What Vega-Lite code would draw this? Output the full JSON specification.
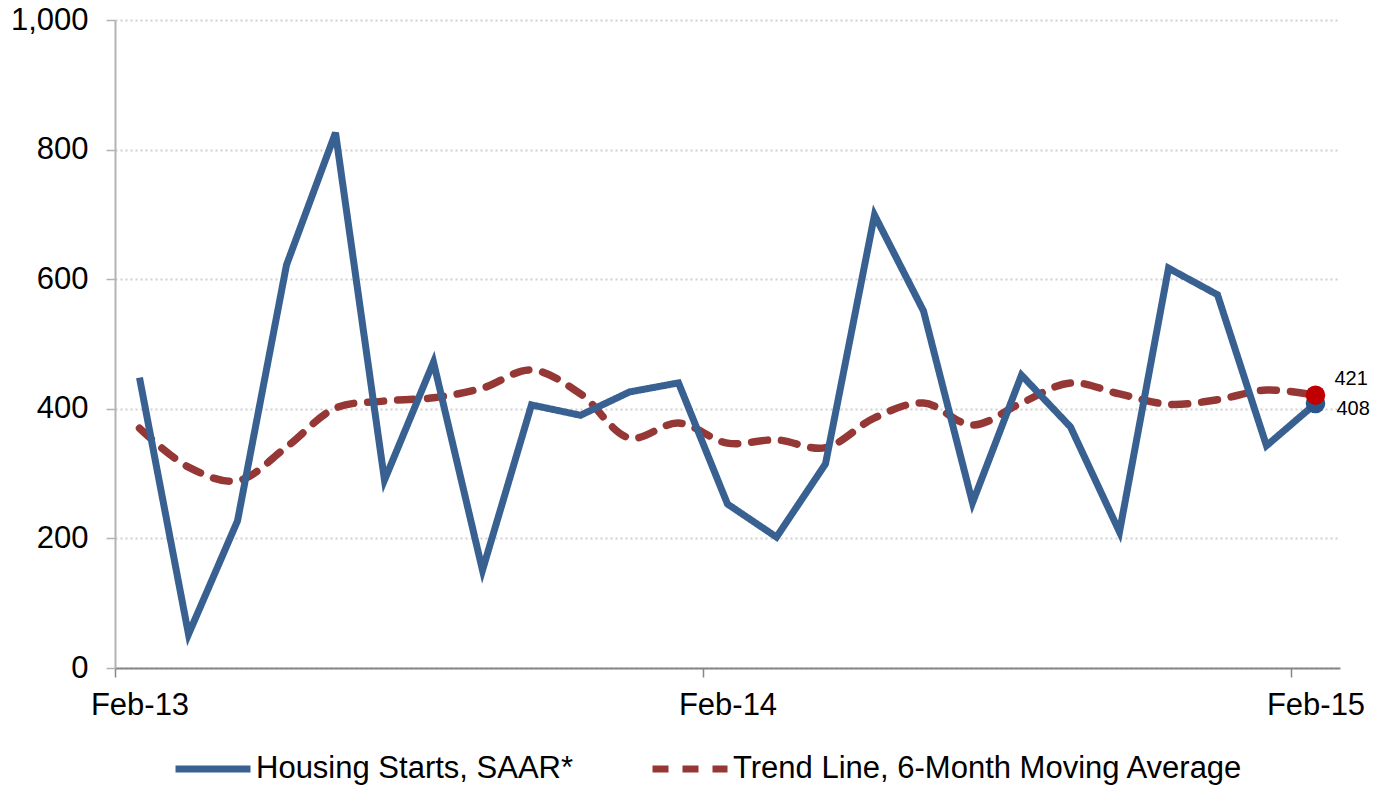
{
  "$schema": "https://vega.github.io/schema/vega-lite/v6.json",
  "width": 1225,
  "height": 648,
  "autosize": {"type": "none"},
  "padding": {"left": 115, "top": 20, "right": 50, "bottom": 120},
  "background": "white",
  "config": {
    "view": {"stroke": null},
    "font": "Liberation Sans",
    "legend": {"symbolStrokeWidth": 7}
  },
  "data": {
    "values": [
      {"i": 0, "month": "Feb-13", "series": "Housing Starts, SAAR*", "value": 448},
      {"i": 1, "month": "Mar-13", "series": "Housing Starts, SAAR*", "value": 52},
      {"i": 2, "month": "Apr-13", "series": "Housing Starts, SAAR*", "value": 227},
      {"i": 3, "month": "May-13", "series": "Housing Starts, SAAR*", "value": 622},
      {"i": 4, "month": "Jun-13", "series": "Housing Starts, SAAR*", "value": 826},
      {"i": 5, "month": "Jul-13", "series": "Housing Starts, SAAR*", "value": 290},
      {"i": 6, "month": "Aug-13", "series": "Housing Starts, SAAR*", "value": 472},
      {"i": 7, "month": "Sep-13", "series": "Housing Starts, SAAR*", "value": 151},
      {"i": 8, "month": "Oct-13", "series": "Housing Starts, SAAR*", "value": 406},
      {"i": 9, "month": "Nov-13", "series": "Housing Starts, SAAR*", "value": 390},
      {"i": 10, "month": "Dec-13", "series": "Housing Starts, SAAR*", "value": 426},
      {"i": 11, "month": "Jan-14", "series": "Housing Starts, SAAR*", "value": 440},
      {"i": 12, "month": "Feb-14", "series": "Housing Starts, SAAR*", "value": 253},
      {"i": 13, "month": "Mar-14", "series": "Housing Starts, SAAR*", "value": 202},
      {"i": 14, "month": "Apr-14", "series": "Housing Starts, SAAR*", "value": 315},
      {"i": 15, "month": "May-14", "series": "Housing Starts, SAAR*", "value": 699},
      {"i": 16, "month": "Jun-14", "series": "Housing Starts, SAAR*", "value": 551},
      {"i": 17, "month": "Jul-14", "series": "Housing Starts, SAAR*", "value": 255},
      {"i": 18, "month": "Aug-14", "series": "Housing Starts, SAAR*", "value": 452},
      {"i": 19, "month": "Sep-14", "series": "Housing Starts, SAAR*", "value": 372},
      {"i": 20, "month": "Oct-14", "series": "Housing Starts, SAAR*", "value": 210},
      {"i": 21, "month": "Nov-14", "series": "Housing Starts, SAAR*", "value": 617},
      {"i": 22, "month": "Dec-14", "series": "Housing Starts, SAAR*", "value": 576},
      {"i": 23, "month": "Jan-15", "series": "Housing Starts, SAAR*", "value": 343},
      {"i": 24, "month": "Feb-15", "series": "Housing Starts, SAAR*", "value": 408},
      {"i": 0, "month": "Feb-13", "series": "Trend Line, 6-Month Moving Average", "value": 370},
      {"i": 1, "month": "Mar-13", "series": "Trend Line, 6-Month Moving Average", "value": 310},
      {"i": 2, "month": "Apr-13", "series": "Trend Line, 6-Month Moving Average", "value": 289},
      {"i": 3, "month": "May-13", "series": "Trend Line, 6-Month Moving Average", "value": 341},
      {"i": 4, "month": "Jun-13", "series": "Trend Line, 6-Month Moving Average", "value": 401},
      {"i": 5, "month": "Jul-13", "series": "Trend Line, 6-Month Moving Average", "value": 412},
      {"i": 6, "month": "Aug-13", "series": "Trend Line, 6-Month Moving Average", "value": 417},
      {"i": 7, "month": "Sep-13", "series": "Trend Line, 6-Month Moving Average", "value": 432},
      {"i": 8, "month": "Oct-13", "series": "Trend Line, 6-Month Moving Average", "value": 460},
      {"i": 9, "month": "Nov-13", "series": "Trend Line, 6-Month Moving Average", "value": 423},
      {"i": 10, "month": "Dec-13", "series": "Trend Line, 6-Month Moving Average", "value": 355},
      {"i": 11, "month": "Jan-14", "series": "Trend Line, 6-Month Moving Average", "value": 378},
      {"i": 12, "month": "Feb-14", "series": "Trend Line, 6-Month Moving Average", "value": 347},
      {"i": 13, "month": "Mar-14", "series": "Trend Line, 6-Month Moving Average", "value": 352},
      {"i": 14, "month": "Apr-14", "series": "Trend Line, 6-Month Moving Average", "value": 340},
      {"i": 15, "month": "May-14", "series": "Trend Line, 6-Month Moving Average", "value": 386},
      {"i": 16, "month": "Jun-14", "series": "Trend Line, 6-Month Moving Average", "value": 409},
      {"i": 17, "month": "Jul-14", "series": "Trend Line, 6-Month Moving Average", "value": 375},
      {"i": 18, "month": "Aug-14", "series": "Trend Line, 6-Month Moving Average", "value": 409},
      {"i": 19, "month": "Sep-14", "series": "Trend Line, 6-Month Moving Average", "value": 440},
      {"i": 20, "month": "Oct-14", "series": "Trend Line, 6-Month Moving Average", "value": 423},
      {"i": 21, "month": "Nov-14", "series": "Trend Line, 6-Month Moving Average", "value": 407},
      {"i": 22, "month": "Dec-14", "series": "Trend Line, 6-Month Moving Average", "value": 414},
      {"i": 23, "month": "Jan-15", "series": "Trend Line, 6-Month Moving Average", "value": 429},
      {"i": 24, "month": "Feb-15", "series": "Trend Line, 6-Month Moving Average", "value": 421}
    ]
  },
  "encoding": {
    "x": {
      "field": "i",
      "type": "quantitative",
      "scale": {"domain": [-0.5, 24.5], "nice": false, "zero": false},
      "axis": {
        "title": null,
        "values": [-0.5, 0, 11.5, 12, 23.5, 24],
        "labelExpr": "datum.value == 0 ? 'Feb-13' : datum.value == 12 ? 'Feb-14' : datum.value == 24 ? 'Feb-15' : ''",
        "labelFontSize": 31,
        "labelColor": "#000000",
        "labelPadding": 13,
        "labelOverlap": false,
        "labelFlush": false,
        "labelBound": false,
        "grid": false,
        "domainColor": "#868686",
        "domainWidth": 2,
        "tickColor": "#868686",
        "tickWidth": 1.5,
        "tickSize": 9,
        "tickOpacity": {"condition": {"test": "datum.value % 1 != 0", "value": 1}, "value": 0}
      }
    },
    "y": {
      "field": "value",
      "type": "quantitative",
      "scale": {"domain": [0, 1000], "nice": false},
      "axis": {
        "title": null,
        "values": [0, 200, 400, 600, 800, 1000],
        "format": ",d",
        "labelFontSize": 31,
        "labelColor": "#000000",
        "labelPadding": 18,
        "grid": true,
        "gridColor": "#d0d0d0",
        "gridWidth": 2,
        "gridDash": [2, 3],
        "domainColor": "#b3b3b3",
        "domainWidth": 2,
        "tickColor": "#b3b3b3",
        "tickWidth": 1.5,
        "tickSize": 9
      }
    }
  },
  "layer": [
    {
      "transform": [{"filter": "datum.series == 'Trend Line, 6-Month Moving Average'"}],
      "mark": {"type": "line", "strokeWidth": 7.5, "strokeCap": "round", "interpolate": "catmull-rom"},
      "encoding": {
        "color": {
          "field": "series", "type": "nominal",
          "scale": {"domain": ["Housing Starts, SAAR*", "Trend Line, 6-Month Moving Average"], "range": ["#386192", "#953735"]},
          "legend": {
            "title": null,
            "orient": "none",
            "legendX": 57,
            "legendY": 708,
            "direction": "horizontal",
            "columns": 2,
            "columnPadding": 64,
            "symbolType": "stroke",
            "symbolSize": 5625,
            "symbolStrokeWidth": 7,
            "labelFontSize": 31,
            "labelColor": "#000000",
            "labelLimit": 700,
            "labelOffset": 2
          }
        },
        "strokeDash": {
          "field": "series", "type": "nominal",
          "scale": {"domain": ["Housing Starts, SAAR*", "Trend Line, 6-Month Moving Average"], "range": [[1, 0], [16, 14]]},
          "legend": {
            "title": null,
            "orient": "none",
            "legendX": 57,
            "legendY": 708,
            "direction": "horizontal",
            "columns": 2,
            "columnPadding": 64,
            "symbolType": "stroke",
            "symbolSize": 5625,
            "symbolStrokeWidth": 7,
            "labelFontSize": 31,
            "labelColor": "#000000",
            "labelLimit": 700,
            "labelOffset": 2
          }
        }
      }
    },
    {
      "transform": [{"filter": "datum.series == 'Housing Starts, SAAR*'"}],
      "mark": {"type": "line", "strokeWidth": 7},
      "encoding": {
        "color": {"field": "series", "type": "nominal"},
        "strokeDash": {"field": "series", "type": "nominal"}
      }
    },
    {
      "transform": [{"filter": "datum.series == 'Housing Starts, SAAR*' && datum.i == 24"}],
      "mark": {"type": "point", "filled": true, "opacity": 1, "size": 380, "color": "#2b568a"}
    },
    {
      "transform": [{"filter": "datum.series == 'Trend Line, 6-Month Moving Average' && datum.i == 24"}],
      "mark": {"type": "point", "filled": true, "opacity": 1, "size": 380, "color": "#c00000"}
    },
    {
      "transform": [{"filter": "datum.series == 'Trend Line, 6-Month Moving Average' && datum.i == 24"}],
      "mark": {"type": "text", "align": "left", "baseline": "middle", "dx": 19, "dy": -16, "fontSize": 20, "color": "#000000"},
      "encoding": {"text": {"field": "value", "type": "quantitative", "format": "d"}}
    },
    {
      "transform": [{"filter": "datum.series == 'Housing Starts, SAAR*' && datum.i == 24"}],
      "mark": {"type": "text", "align": "left", "baseline": "middle", "dx": 21, "dy": 5, "fontSize": 20, "color": "#000000"},
      "encoding": {"text": {"field": "value", "type": "quantitative", "format": "d"}}
    }
  ]
}
